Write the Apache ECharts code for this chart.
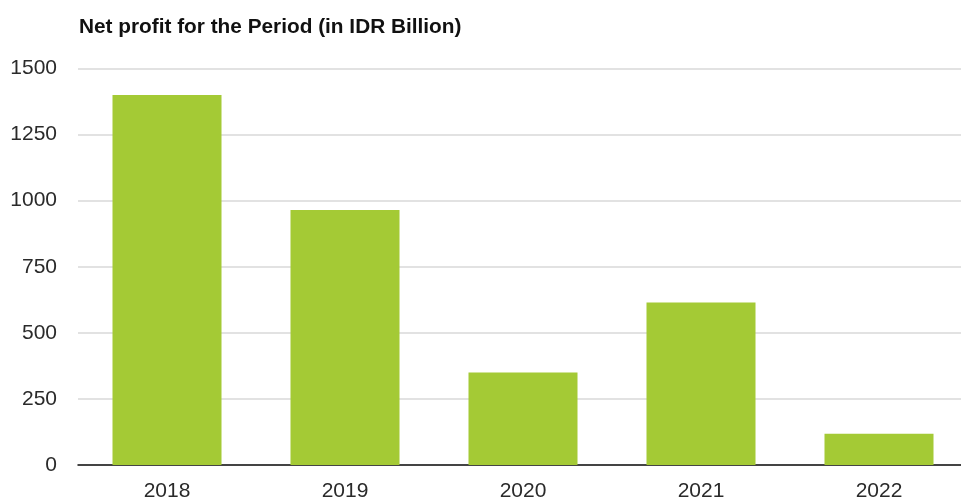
<!DOCTYPE html>
<html>
<head>
<meta charset="utf-8">
<script src="https://cdn.jsdelivr.net/npm/echarts@6/dist/echarts.min.js"></script>
<style>
  html, body { margin: 0; padding: 0; background: #ffffff; overflow: hidden; }
  /* plot area runs slightly past the right edge of the window */
  #chart { width: 980px; height: 502px; }
</style>
</head>
<body>
<div id="chart"></div>
<script>
// Net profit by year, IDR billion
const years = ['2018', '2019', '2020', '2021', '2022'];
const netProfit = [1400, 965, 350, 615, 118];
const chartTitle = 'Net profit for the Period (in IDR Billion)';

const chart = echarts.init(document.getElementById('chart'), null, { renderer: 'canvas' });

chart.setOption({
  animation: false,
  backgroundColor: '#ffffff',
  title: {
    text: chartTitle,
    left: 74,
    top: 12,
    textStyle: {
      fontFamily: 'Liberation Sans, Arial, sans-serif',
      fontSize: 20.8,
      fontWeight: 'bold',
      color: '#111111'
    }
  },
  grid: {
    left: 78,
    top: 68.5,
    width: 890,
    height: 398.5,
    containLabel: false
  },
  xAxis: {
    type: 'category',
    data: years,
    axisLine: { show: true, lineStyle: { color: '#111111', width: 1.5 } },
    axisTick: { show: false },
    axisLabel: {
      margin: 16,
      fontFamily: 'Liberation Sans, Arial, sans-serif',
      fontSize: 21,
      color: '#2a2a2a'
    }
  },
  yAxis: {
    type: 'value',
    min: 0,
    max: 1500,
    interval: 250,
    axisLine: { show: false },
    axisTick: { show: false },
    splitLine: { lineStyle: { color: '#d9d9d9', width: 1.5 } },
    axisLabel: {
      margin: 21,
      formatter: (v) => String(v),
      fontFamily: 'Liberation Sans, Arial, sans-serif',
      fontSize: 21,
      color: '#2a2a2a'
    }
  },
  series: [{
    type: 'bar',
    data: netProfit,
    barWidth: 109,
    itemStyle: { color: '#a4ca35' }
  }]
});
</script>
</body>
</html>
